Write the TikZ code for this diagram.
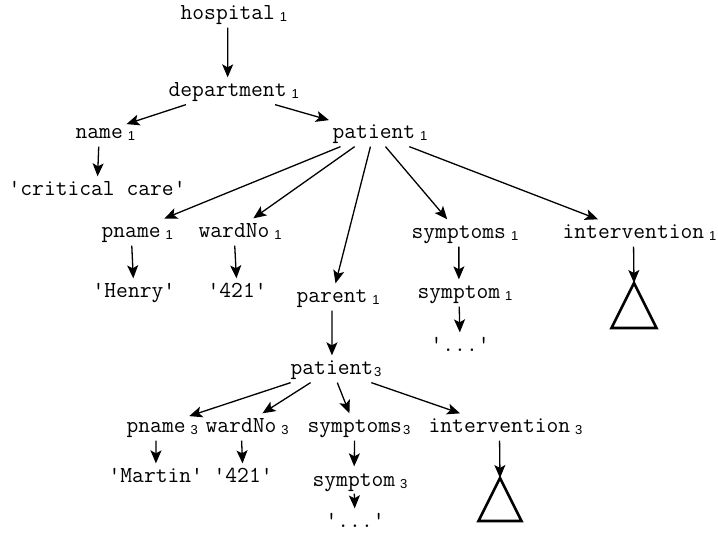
\documentclass[tikz,border=0pt]{standalone}
\usepackage{fontspec}
\setmainfont{Liberation Sans}
\setsansfont{Liberation Sans}
\usepackage{tikz}
\usetikzlibrary{positioning, arrows.meta}
\tikzset{>={Stealth[length=13pt, width=11pt, inset=3pt]}, elem/.style={font=\fontsize{22.9}{23}\selectfont\ttfamily, inner sep=3pt, text height=16pt, text depth=4pt, anchor=base west}, tri/.style={line width=2.6pt, line join=miter}}
\newcommand{\ix}[1]{\rlap{\hspace{5pt}\raisebox{-2pt}{\fontsize{13}{13}\selectfont\sffamily #1}}}
\newcommand{\ixt}[1]{\rlap{\hspace{1pt}\raisebox{-2pt}{\fontsize{13}{13}\selectfont\sffamily #1}}}
\newcommand{\q}{\textquotesingle}

\begin{document}
\begin{tikzpicture}[x=1pt, y=-1pt, line width=1.3pt]
	\useasboundingbox (0,0) rectangle (718,534);
	% upper tree
	\node[elem] (Hospital) at (177,20) {hospital\ix{1}};
	\node[elem] (Department) at (165,97) {department\ix{1}};
	\node[elem] (Name) at (72,139) {name\ix{1}};
	\node[elem] (Critical) at (5,196) {\q critical care\q};
	\node[elem] (PatientA) at (329,139) {patient\ix{1}};
	\node[elem] (PnameA) at (98,238) {pname\ix{1}};
	\node[elem] (WardA) at (195,238) {wardNo\ix{1}};
	\node[elem] (Henry) at (89,298) {\q Henry\q};
	\node[elem] (NumA) at (204,298) {\q 421\q};
	\node[elem] (Parent) at (293,303) {parent\ix{1}};
	\node[elem] (SymptomsA) at (408,239) {symptoms\ix{1}};
	\node[elem] (SymptomA) at (414,299) {symptom\ix{1}};
	\node[elem] (DotsA) at (427,352) {\q...\q};
	\node[elem] (InterA) at (559,239) {intervention\ix{1}};
	\coordinate (TriA) at (634,283);
	\draw[tri] (TriA) -- ++(22.5,45) -- ++(-45,0) -- cycle;
	% lower tree
	\node[elem] (PatientB) at (287,375) {patient\ixt{3}};
	\node[elem] (PnameB) at (123,433) {pname\ix{3}};
	\node[elem] (WardB) at (202,433) {wardNo\ix{3}};
	\node[elem] (Martin) at (105,483) {\q Martin\q};
	\node[elem] (NumB) at (210,483) {\q 421\q};
	\node[elem] (SymptomsB) at (304,433) {symptoms\ixt{3}};
	\node[elem] (SymptomB) at (309,486) {symptom\ix{3}};
	\node[elem] (DotsB) at (322,528) {\q...\q};
	\node[elem] (InterB) at (425,433) {intervention\ix{3}};
	\coordinate (TriB) at (500,478);
	\draw[tri] (TriB) -- ++(21.5,43) -- ++(-43,0) -- cycle;

	\draw[->]
		(Hospital) edge (Department)
		(Department) edge (Name)
		(Department) edge (PatientA)
		(Name) edge (Critical)
		(PatientA) edge (PnameA)
		(PatientA) edge (WardA)
		(PatientA) edge (Parent)
		(PatientA) edge (SymptomsA)
		(PatientA) edge (InterA)
		(PnameA) edge (Henry)
		(WardA) edge (NumA)
		(SymptomsA) edge (SymptomA)
		(SymptomA) edge (DotsA)
		(InterA) edge (TriA)
		(Parent) edge (PatientB)
		(PatientB) edge (PnameB)
		(PatientB) edge (WardB)
		(PatientB) edge (SymptomsB)
		(PatientB) edge (InterB)
		(PnameB) edge (Martin)
		(WardB) edge (NumB)
		(SymptomsB) edge (SymptomB)
		(SymptomB) edge (DotsB)
		(InterB) edge (TriB);
\end{tikzpicture}
\end{document}
